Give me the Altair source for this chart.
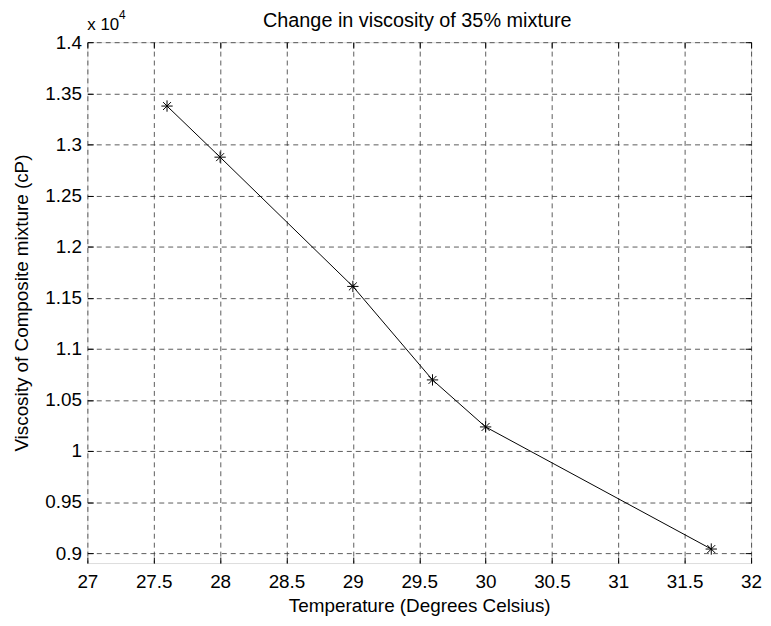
import altair as alt
import pandas as pd

temperature = [27.6, 28.0, 29.0, 29.6, 30.0, 31.7]
viscosity = [13375, 12875, 11610, 10695, 10235, 9040]
x_ticks = [27, 27.5, 28, 28.5, 29, 29.5, 30, 30.5, 31, 31.5, 32]
y_ticks = [9000, 9500, 10000, 10500, 11000, 11500, 12000, 12500, 13000, 13500, 14000]
title_text = ["Change in viscosity of 35% mixture"]

df = pd.DataFrame({"t": temperature, "v": viscosity})

W, H = 669, 525
FONT = "Liberation Sans"
FS = 19

xs = alt.Scale(domain=[27, 32], nice=False, zero=False)
ys = alt.Scale(domain=[8903, 14000], nice=False, zero=False)

label_expr_y = "format(datum.value/10000, '.3~f')"
label_expr_x = "format(datum.value, '~g')"

base = alt.Chart(df)

line = base.mark_line(color="black", strokeWidth=1).encode(
    x=alt.X("t:Q", scale=xs, axis=alt.Axis(
        values=x_ticks, title="Temperature (Degrees Celsius)", grid=True,
        gridDash=[5, 4], gridColor="#333", gridWidth=0.8, ticks=False, domain=False,
        labelPadding=10, titlePadding=5, labelFont=FONT, titleFont=FONT,
        labelFontSize=FS, titleFontSize=FS, titleFontWeight="normal",
        labelColor="black", titleColor="black", labelExpr=label_expr_x, labelFlush=False)),
    y=alt.Y("v:Q", scale=ys, axis=alt.Axis(
        values=y_ticks, title="Viscosity of Composite mixture (cP)", grid=True,
        gridDash=[5, 4], gridColor="#333", gridWidth=0.8, ticks=False, domain=False,
        labelPadding=6, titlePadding=13, labelFont=FONT, titleFont=FONT,
        labelFontSize=FS, titleFontSize=FS, titleFontWeight="normal",
        labelColor="black", titleColor="black", labelExpr=label_expr_y, labelFlush=False)),
)

star = "M-1,0L1,0M0,-1L0,1M-0.7,-0.7L0.7,0.7M-0.7,0.7L0.7,-0.7"
pts = base.mark_point(shape=star, size=130, filled=False, color="black", strokeWidth=1, opacity=1).encode(
    x=alt.X("t:Q", scale=xs, axis=None),
    y=alt.Y("v:Q", scale=ys, axis=None),
)

def tick_axis(orient, offset, vals):
    return alt.Axis(orient=orient, offset=offset, values=vals, labels=False, title=None,
                    grid=False, domain=False, ticks=True, tickSize=6, tickColor="black", tickWidth=1)

ticks_a = base.mark_point(opacity=0).encode(
    x=alt.X("t:Q", scale=xs, axis=tick_axis("top", -H, x_ticks)),
    y=alt.Y("v:Q", scale=ys, axis=tick_axis("right", -W, y_ticks)),
)
ticks_b = base.mark_point(opacity=0).encode(
    x=alt.X("t:Q", scale=xs, axis=tick_axis("bottom", -H, x_ticks)),
    y=alt.Y("v:Q", scale=ys, axis=tick_axis("left", -W, y_ticks)),
)

exp_main = alt.Chart(pd.DataFrame({"s": ["x 10"]})).mark_text(
    align="left", baseline="alphabetic", font=FONT, fontSize=17, color="black"
).encode(x=alt.value(0), y=alt.value(-12), text="s:N")
exp_sup = alt.Chart(pd.DataFrame({"s": ["4"]})).mark_text(
    align="left", baseline="alphabetic", font=FONT, fontSize=12, color="black"
).encode(x=alt.value(32), y=alt.value(-23), text="s:N")
title = alt.Chart(pd.DataFrame({"s": title_text})).mark_text(
    align="center", baseline="alphabetic", font=FONT, fontSize=20, color="black"
).encode(x=alt.value(W / 2 - 2), y=alt.value(-15), text="s:N")

chart = alt.layer(line, pts, ticks_a, ticks_b, exp_main, exp_sup, title).resolve_axis(
    x="independent", y="independent"
).properties(
    width=W, height=H,
    autosize=alt.AutoSizeParams(type="none"),
    padding={"left": 80, "top": 32, "right": 12, "bottom": 60},
).configure_view(stroke="black", strokeWidth=1).configure(background="white")

chart.save("out.html", embed_options={"renderer": "svg", "actions": False})
